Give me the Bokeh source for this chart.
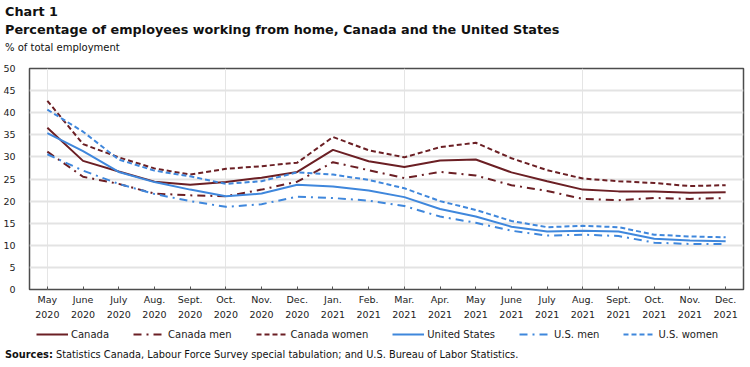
from bokeh.plotting import figure
from bokeh.models import Legend, LegendItem, FixedTicker, Range1d, LinearAxis, Div
from bokeh.layouts import column
from bokeh.embed import file_html
from bokeh.resources import INLINE

months = ["May 2020", "June 2020", "July 2020", "Aug. 2020", "Sept. 2020", "Oct. 2020",
          "Nov. 2020", "Dec. 2020", "Jan. 2021", "Feb. 2021", "Mar. 2021", "Apr. 2021",
          "May 2021", "June 2021", "July 2021", "Aug. 2021", "Sept. 2021", "Oct. 2021",
          "Nov. 2021", "Dec. 2021"]

canada = [36.6, 29.1, 26.7, 24.4, 23.7, 24.3, 25.3, 26.6, 31.6, 29.0, 27.7, 29.2,
          29.4, 26.5, 24.5, 22.6, 22.2, 22.2, 21.9, 22.0]
canada_men = [31.2, 25.5, 23.9, 21.7, 21.3, 21.1, 22.6, 24.4, 28.8, 27.0, 25.2, 26.6,
              25.8, 23.6, 22.3, 20.5, 20.2, 20.7, 20.5, 20.7]
canada_women = [42.7, 32.9, 29.9, 27.4, 26.0, 27.3, 27.9, 28.7, 34.5, 31.5, 29.9, 32.2,
                33.2, 29.7, 27.0, 25.1, 24.5, 24.1, 23.4, 23.6]
us = [35.4, 31.3, 26.6, 24.3, 22.6, 21.1, 21.7, 23.7, 23.3, 22.4, 20.9, 18.2,
      16.5, 14.2, 13.1, 13.3, 13.1, 11.5, 11.1, 10.9]
us_men = [30.6, 26.9, 23.9, 21.6, 20.0, 18.7, 19.3, 21.0, 20.7, 20.1, 18.9, 16.5,
          15.1, 13.3, 12.2, 12.4, 12.1, 10.6, 10.3, 10.3]
us_women = [40.7, 35.7, 29.4, 26.9, 25.6, 23.9, 24.5, 26.5, 26.0, 24.8, 22.9, 20.0,
            18.0, 15.5, 14.1, 14.4, 14.1, 12.4, 12.0, 11.8]

series_labels = ["Canada", "Canada men", "Canada women", "United States", "U.S. men", "U.S. women"]
y_ticks = list(range(0, 51, 5))

title_text = "Chart 1"
subtitle_text = "Percentage of employees working from home, Canada and the United States"
unit_text = "% of total employment"
source_head = "Sources:"
source_text = "Statistics Canada, Labour Force Survey special tabulation; and U.S. Bureau of Labor Statistics."

RED = "#6b1f24"
BLUE = "#3f87dc"
FONT = "DejaVu Sans"
TXT = "#222222"
W = 750

xs = list(range(len(months)))
month_names = {i: m.split(" ")[0] for i, m in enumerate(months)}
year_names = {i: m.split(" ")[1] for i, m in enumerate(months)}

# ---- title block ----
title_div = Div(
    text=(f'<div style="font-weight:bold;font-size:12.8px;line-height:18px;">{title_text}</div>'
          f'<div style="font-weight:bold;font-size:12.8px;line-height:18px;">{subtitle_text}</div>'
          f'<div style="font-size:10px;line-height:18px;">{unit_text}</div>'),
    width=W, height=57, margin=(0, 0, 0, 0),
    styles={"font-family": FONT, "color": "#111111", "padding-top": "3px", "padding-left": "5px"})

# ---- main chart ----
p = figure(frame_width=714, frame_height=221,
           x_range=Range1d(-0.5, len(months) - 0.5), y_range=Range1d(0, 50),
           output_backend="svg", toolbar_location=None, x_axis_location=None,
           min_border_left=29, min_border_right=7, min_border_top=11, min_border_bottom=0,
           margin=(0, 0, 0, 0))

p.background_fill_color = "white"
p.border_fill_color = "white"
p.outline_line_color = "#4d4d4d"
p.outline_line_width = 1.5

p.ygrid.grid_line_color = "#e3e3e3"
p.ygrid.grid_line_width = 2
p.yaxis.ticker = FixedTicker(ticks=y_ticks)
p.yaxis.axis_line_color = None
p.yaxis.major_tick_line_color = None
p.yaxis.minor_tick_line_color = None
p.yaxis.major_label_standoff = 8
p.yaxis.major_label_text_font = FONT
p.yaxis.major_label_text_font_size = "9.5px"
p.yaxis.major_label_text_color = TXT

month_axis = LinearAxis(ticker=FixedTicker(ticks=xs), major_label_overrides=month_names,
                        axis_line_color=None, major_tick_line_color="#555555",
                        major_tick_in=3, major_tick_out=0, minor_tick_line_color=None,
                        major_label_standoff=4, major_label_text_font=FONT,
                        major_label_text_font_size="9.5px", major_label_text_color=TXT)
year_axis = LinearAxis(ticker=FixedTicker(ticks=xs), major_label_overrides=year_names,
                       axis_line_color=None, major_tick_line_color=None,
                       major_tick_in=0, major_tick_out=0, minor_tick_line_color=None,
                       major_label_standoff=3, major_label_text_font=FONT,
                       major_label_text_font_size="9.5px", major_label_text_color=TXT)
p.add_layout(month_axis, "below")
p.add_layout(year_axis, "below")

styles = [
    (canada, RED, "solid"),
    (canada_men, RED, "8 5 2 5"),
    (canada_women, RED, "5 3"),
    (us, BLUE, "solid"),
    (us_men, BLUE, "8 5 2 5"),
    (us_women, BLUE, "5 3"),
]
for vals, col, dash in styles:
    p.line(xs, vals, line_color=col, line_width=2, line_dash=dash)

# ---- legend strip (series drawn out of view; only the legend shows) ----
lg = figure(width=W, height=28, x_range=Range1d(100, 101), y_range=Range1d(100, 101),
            output_backend="svg", toolbar_location=None, x_axis_location=None,
            y_axis_location=None, min_border=0, margin=(0, 0, 0, 0))
lg.outline_line_color = None
lg.xgrid.grid_line_color = None
lg.ygrid.grid_line_color = None
items = []
for (vals, col, dash), lab in zip(styles, series_labels):
    r = lg.line(xs, vals, line_color=col, line_width=2, line_dash=dash)
    items.append(LegendItem(label=lab, renderers=[r]))
legend = Legend(items=items, orientation="horizontal", location=(7, 8),
                label_text_font=FONT, label_text_font_size="10px", label_text_color=TXT,
                glyph_width=32, glyph_height=12, label_standoff=3, spacing=24,
                border_line_color=None, background_fill_alpha=0, padding=0, margin=0)
lg.add_layout(legend, "center")

# ---- sources ----
src_div = Div(text=f'<b>{source_head}</b> {source_text}', width=W, height=14,
              margin=(0, 0, 0, 0),
              styles={"font-family": FONT, "font-size": "9.8px", "color": "#111111",
                      "line-height": "14px", "white-space": "nowrap", "padding-left": "5px"})

layout = column(title_div, p, lg, src_div, spacing=0, margin=(0, 0, 0, 0))
open("out.html", "w").write(file_html(layout, INLINE))
